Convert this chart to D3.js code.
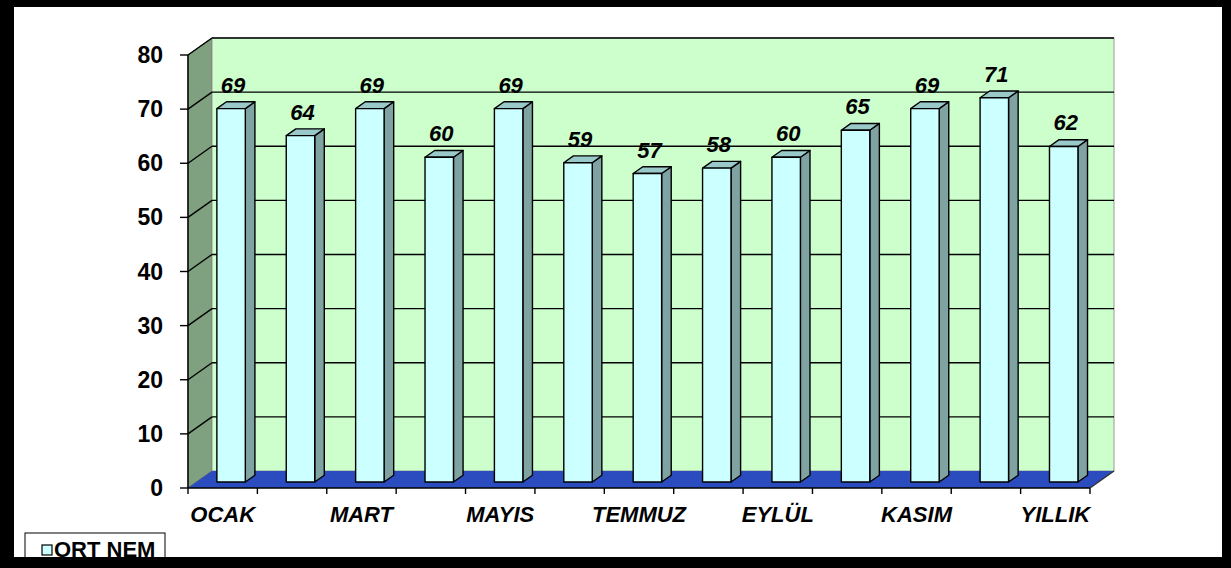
<!DOCTYPE html>
<html>
<head>
<meta charset="utf-8">
<script src="https://d3js.org/d3.v7.min.js"></script>
<style>
  body { margin: 0; background: #fff; }
  text { font-family: "Liberation Sans", Arial, sans-serif; font-weight: bold; fill: #000; }
</style>
</head>
<body>
<script>
// aylar ve ortalama nem değerleri
const months = ['OCAK', 'ŞUBAT', 'MART', 'NİSAN', 'MAYIS', 'HAZİRAN', 'TEMMUZ', 'AĞUSTOS', 'EYLÜL', 'EKİM', 'KASIM', 'ARALIK', 'YILLIK'];
const shownLabels = ['OCAK', 'MART', 'MAYIS', 'TEMMUZ', 'EYLÜL', 'KASIM', 'YILLIK'];
const values = [69, 64, 69, 60, 69, 59, 57, 58, 60, 65, 69, 71, 62];
const yTicks = [0, 10, 20, 30, 40, 50, 60, 70, 80];
const seriesName = 'ORT NEM';

const W = 1231, H = 568;
const plotL = 188, plotR = 1090, plotT = 55, plotB = 488;
const depthX = 24, depthY = -17; // arka duvara kaydırma
const barFront = 0.35, barBack = 0.75;

const svg = d3.select('body').append('svg').attr('width', W).attr('height', H);

const x = d3.scaleBand(months, [plotL, plotR]).paddingInner(0.59).paddingOuter(0.295);
const xStep = d3.scaleBand(months, [plotL, plotR]);
const y = d3.scaleLinear([0, 80], [plotB, plotT]);

const off = t => [t * depthX, t * depthY];
const pts = a => a.map(p => p.join(',')).join(' ');

// sol duvar
svg.append('polygon')
  .attr('points', pts([[plotL, plotT], [plotL + depthX, plotT + depthY], [plotL + depthX, plotB + depthY], [plotL, plotB]]))
  .attr('fill', '#80a180').attr('stroke', '#555').attr('stroke-width', 1);
// arka duvar
svg.append('rect')
  .attr('x', plotL + depthX).attr('y', plotT + depthY)
  .attr('width', plotR - plotL).attr('height', plotB - plotT)
  .attr('fill', '#ccffcc').attr('stroke', '#999').attr('stroke-width', 1);
// zemin
svg.append('polygon')
  .attr('points', pts([[plotL, plotB], [plotR, plotB], [plotR + depthX, plotB + depthY], [plotL + depthX, plotB + depthY]]))
  .attr('fill', '#2a4cbf');

// ızgara çizgileri
const grid = svg.append('g').attr('stroke', '#000').attr('stroke-width', 1.4);
yTicks.filter(d => d > 0).forEach(v => {
  grid.append('line')
    .attr('x1', plotL).attr('y1', y(v)).attr('x2', plotL + depthX).attr('y2', y(v) + depthY);
  grid.append('line')
    .attr('x1', plotL + depthX).attr('y1', y(v) + depthY).attr('x2', plotR + depthX).attr('y2', y(v) + depthY);
});

// eksenler
const axes = svg.append('g').attr('stroke', '#000').attr('stroke-width', 1.4);
axes.append('line').attr('x1', plotL).attr('y1', plotT).attr('x2', plotL).attr('y2', plotB);
axes.append('line').attr('x1', plotL).attr('y1', plotB).attr('x2', plotR).attr('y2', plotB);
axes.append('line').attr('x1', plotR).attr('y1', plotB).attr('x2', plotR + depthX).attr('y2', plotB + depthY)
  .attr('stroke', '#333');
yTicks.forEach(v => {
  axes.append('line').attr('x1', plotL - 8).attr('y1', y(v)).attr('x2', plotL).attr('y2', y(v));
});
months.forEach(m => {
  axes.append('line').attr('x1', xStep(m)).attr('y1', plotB).attr('x2', xStep(m)).attr('y2', plotB + 6);
});
axes.append('line').attr('x1', plotR).attr('y1', plotB).attr('x2', plotR).attr('y2', plotB + 6);

svg.append('g').selectAll('text').data(yTicks).join('text')
  .attr('x', 163).attr('y', d => y(d) + 8)
  .attr('text-anchor', 'end').style('font-size', '23px')
  .text(d => d);

svg.append('g').selectAll('text').data(shownLabels).join('text')
  .attr('x', d => xStep(d) + xStep.bandwidth() / 2).attr('y', 522)
  .attr('text-anchor', 'middle').style('font-size', '22px').style('font-style', 'italic')
  .text(d => d);

// 3B sütunlar
const bars = svg.append('g');
months.forEach((m, i) => {
  const v = values[i];
  const [fx, fy] = off(barFront), [bx, by] = off(barBack);
  const x0 = x(m) + fx, x1 = x(m) + x.bandwidth() + fx;
  const yt = y(v) + fy, yb = y(0) + fy;
  const dx = bx - fx, dy = by - fy;
  const g = bars.append('g').attr('stroke', '#000').attr('stroke-width', 1.4).attr('stroke-linejoin', 'round');
  g.append('polygon').attr('points', pts([[x1, yt], [x1 + dx, yt + dy], [x1 + dx, yb + dy], [x1, yb]]))
    .attr('fill', '#7fa3a3');
  g.append('polygon').attr('points', pts([[x0, yt], [x1, yt], [x1 + dx, yt + dy], [x0 + dx, yt + dy]]))
    .attr('fill', '#99c9c9');
  g.append('rect').attr('x', x0).attr('y', yt).attr('width', x1 - x0).attr('height', yb - yt)
    .attr('fill', '#ccffff');
  svg.append('text')
    .attr('x', (x0 + x1) / 2 + 2).attr('y', yt - 16)
    .attr('text-anchor', 'middle').style('font-size', '22px').style('font-style', 'italic')
    .text(v);
});

// lejant
const leg = svg.append('g');
leg.append('rect').attr('x', 25).attr('y', 533).attr('width', 140).attr('height', 40)
  .attr('fill', '#fff').attr('stroke', '#000').attr('stroke-width', 1);
leg.append('rect').attr('x', 42).attr('y', 545).attr('width', 10).attr('height', 10)
  .attr('fill', '#ccffff').attr('stroke', '#000').attr('stroke-width', 1.2);
leg.append('text').attr('x', 54).attr('y', 557).style('font-size', '22px').text(seriesName);

// siyah çerçeve
const frame = svg.append('g').attr('fill', '#000');
frame.append('rect').attr('x', 0).attr('y', 0).attr('width', W).attr('height', 7);
frame.append('rect').attr('x', 0).attr('y', 0).attr('width', 14).attr('height', H);
frame.append('rect').attr('x', 1222).attr('y', 0).attr('width', 9).attr('height', H);
frame.append('rect').attr('x', 0).attr('y', 557).attr('width', W).attr('height', 11);
</script>
</body>
</html>
